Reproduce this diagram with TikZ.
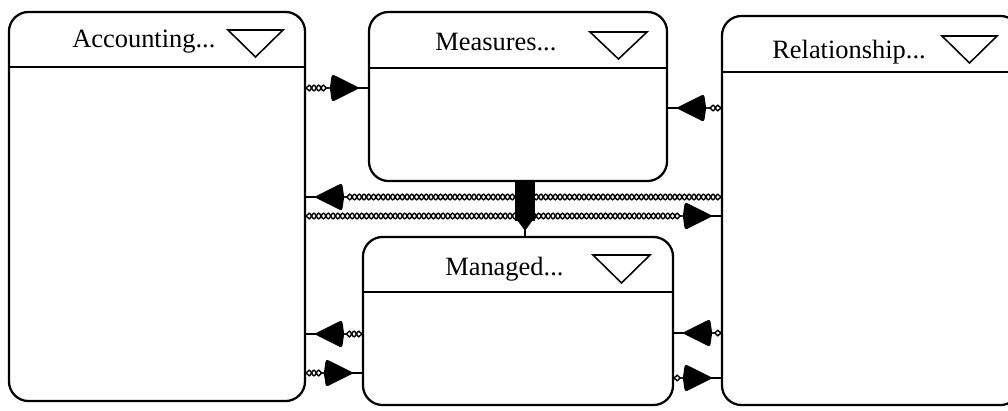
\documentclass[tikz,border=0pt]{standalone}
\usepackage{fontspec}
\setmainfont{Liberation Serif}
\usetikzlibrary{calc,decorations.pathmorphing,decorations.markings}

\begin{document}
\begin{tikzpicture}[x=0.025cm,y=-0.025cm]
        \tikzset{cls/.style = {draw, line width=1.6pt, rounded corners=14pt, inner sep=0pt}}
        \tikzset{hdr/.style = {line width=1.3pt}}
        \tikzset{title/.style = {anchor=base west, inner sep=0pt, font=\fontsize{18.8}{22}\selectfont}}
        \tikzset{drop/.style = {line width=1.1pt, line join=miter}}
        \tikzset{wave/.style = {draw, line width=1pt, decorate, decoration={snake, amplitude=2pt, segment length=6.8pt, post length=27pt}}}
        \tikzset{assoc/.style = {preaction={wave}, preaction={wave, decoration={mirror}},
                postaction={decorate, decoration={markings, mark=at position 1 with {
                  \fill[rounded corners=2pt] (-8,0) -- (-36,14) -- (-38,0) -- (-36,-14) -- cycle;
                  \draw[line width=1.3pt] (0,0) -- (-10,0);}}}}}
        \tikzset{compos/.style = {preaction={draw, line width=14pt, shorten >=0.375cm},
                postaction={decorate, decoration={markings, mark=at position 1 with {
                  \fill (-5,0) -- (-16,8) -- (-16,-8) -- cycle;
                  \draw[line width=1.3pt] (0,0) -- (-6,0);}}}}}
        \useasboundingbox (0,0) rectangle (1008,410);
        % classes
        \node[cls, minimum width=7.4cm, minimum height=9.725cm] (acc) at (157,206.5) {};
        \node[cls, minimum width=7.45cm, minimum height=4.225cm] (mea) at (518,96.5) {};
        \node[cls, minimum width=7.75cm, minimum height=4.2cm] (man) at (518,321) {};
        \node[cls, minimum width=7.45cm, minimum height=9.725cm] (rel) at (871,210.5) {};
        
        % headers
        \draw[hdr] (acc.west |- 0,67) -- (acc.east |- 0,67);
        \draw[hdr] (mea.west |- 0,68) -- (mea.east |- 0,68);
        \draw[hdr] (man.west |- 0,292) -- (man.east |- 0,292);
        \draw[hdr] (rel.west |- 0,72) -- (rel.east |- 0,72);
        \node[title] (acct) at (72,47) {Accounting...};
        \node[title] (meat) at (435,50) {Measures...};
        \node[title] (mant) at (445,275) {Managed...};
        \node[title] (relt) at (772,58) {Relationship...};
        \draw[drop] (228,30) -- (283,30) -- (255.5,57) -- cycle;
        \draw[drop] (590,32) -- (647,32) -- (618.5,59) -- cycle;
        \draw[drop] (593,255) -- (650,255) -- (621.5,283) -- cycle;
        \draw[drop] (942,36) -- (997,36) -- (969.5,63) -- cycle;
        
        %links
        \path[compos] ($(mea.south)+(7,0)$) -- ($(man.north)+(7,0)$);
        \path[assoc] (acc.east |- 0,88) -- (mea.west |- 0,88);
        \path[assoc] (rel.west |- 0,108) -- (mea.east |- 0,108);
        \path[assoc] (rel.west |- 0,197) -- (acc.east |- 0,197);
        \path[assoc] (acc.east |- 0,216) -- (rel.west |- 0,216);
        \path[assoc] (man.west |- 0,334) -- (acc.east |- 0,334);
        \path[assoc] (acc.east |- 0,373) -- (man.west |- 0,373);
        \path[assoc] (rel.west |- 0,333) -- (man.east |- 0,333);
        \path[assoc] (man.east |- 0,378) -- (rel.west |- 0,378);
\end{tikzpicture}
\end{document}
